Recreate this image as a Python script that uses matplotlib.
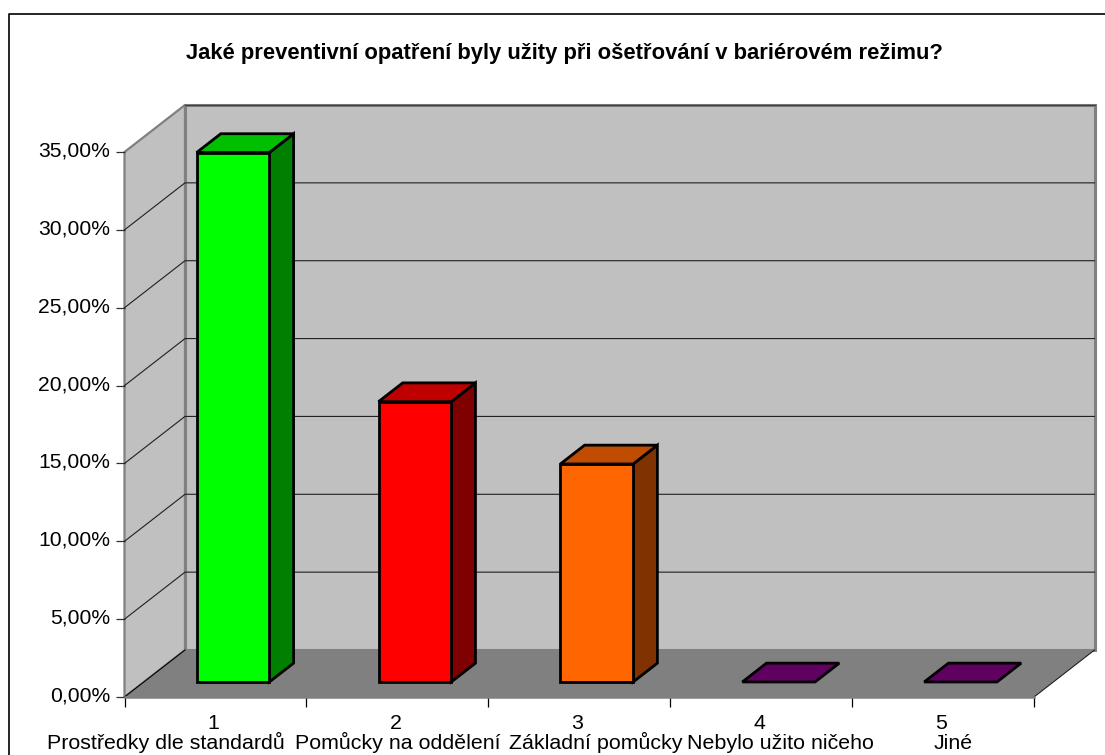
import matplotlib
matplotlib.use('Agg')
import matplotlib.pyplot as plt
from matplotlib.patches import Polygon
from matplotlib.transforms import ScaledTranslation

plt.rcParams['font.family'] = ['Liberation Sans', 'DejaVu Sans']

# data
cisla = ['1', '2', '3', '4', '5']
kategorie = ['Prostředky dle standardů', 'Pomůcky na oddělení', 'Základní pomůcky',
             'Nebylo užito ničeho', 'Jiné']
hodnoty = [34.0, 18.0, 14.0, 0.0, 0.0]
osa_y = [0, 5, 10, 15, 20, 25, 30, 35]
titulek = 'Jaké preventivní opatření byly užity při ošetřování v bariérovém režimu?'

# colours of each bar: front, top, side
barvy = [('#00FF00', '#00BF00', '#007F00'),
         ('#FF0000', '#BF0000', '#7F0000'),
         ('#FF6600', '#BF4C00', '#803300'),
         ('#660066', '#600060', '#330033'),
         ('#660066', '#600060', '#330033')]

W, H = 1105, 755
fig = plt.figure(figsize=(W / 100, H / 100), dpi=100)

# the axes is the front plane of the 3D box
L, R, T, B = 124.5, 1034.0, 152.0, 697.0
ax = fig.add_axes([L / W, 1 - B / H, (R - L) / W, (B - T) / H])
ax.set_xlim(0, 5)
ax.set_ylim(0, 35)
ax.patch.set_visible(False)
for s in ax.spines.values():
    s.set_visible(False)

# depth of the box in data units
DX = 60.5 / ((R - L) / 5)
DY = 47.0 / ((B - T) / 35)


def p(x, y, d=0.0):
    return (x + d * DX, y + d * DY)


def poly(body, fc, ec='none', lw=0.0, z=1):
    ax.add_patch(Polygon(body, closed=True, facecolor=fc, edgecolor=ec, linewidth=lw,
                         joinstyle='miter', clip_on=False, zorder=z))


# walls and floor
poly([p(0, 0), p(5, 0), p(5, 0, 1), p(0, 0, 1)], '#808080', z=1)
poly([p(0, 0), p(0, 35), p(0, 35, 1), p(0, 0, 1)], '#C0C0C0', ec='#808080', lw=1.6, z=1)
poly([p(0, 0, 1), p(0, 35, 1), p(5, 35, 1), p(5, 0, 1)], '#C0C0C0', ec='#808080', lw=2.2, z=1)
ax.plot([p(0, 35, 1)[0], p(5, 35, 1)[0]], [p(0, 35, 1)[1]] * 2, color='#404040', lw=0.9,
        clip_on=False, zorder=2)

# gridlines run along the side wall and then across the back wall
for v in osa_y[1:-1]:
    ax.plot([p(0, v)[0], p(0, v, 1)[0], p(5, v, 1)[0]],
            [p(0, v)[1], p(0, v, 1)[1], p(5, v, 1)[1]],
            color='#202020', lw=0.8, clip_on=False, zorder=2)

# floor edges
ax.plot([p(0, 0)[0], p(0, 0, 1)[0]], [p(0, 0)[1], p(0, 0, 1)[1]], color='black', lw=0.8,
        clip_on=False, zorder=2)
ax.plot([p(5, 0)[0], p(5, 0, 1)[0]], [p(5, 0)[1], p(5, 0, 1)[1]], color='#202020', lw=0.8,
        clip_on=False, zorder=2)
ax.plot([0, 5], [0, 0], color='#808080', lw=1.8, clip_on=False, zorder=2)

# bars
sirka = 0.4
d0, d1 = 0.32, 0.72
lw_bar = 2.0
for i, (h, c) in enumerate(zip(hodnoty, barvy)):
    x0 = i + 0.29
    x1 = x0 + sirka
    if h > 0:
        poly([p(x1, 0, d0), p(x1, h, d0), p(x1, h, d1), p(x1, 0, d1)], c[2], 'black', lw_bar, 3)
        poly([p(x0, 0, d0), p(x1, 0, d0), p(x1, h, d0), p(x0, h, d0)], c[0], 'black', lw_bar, 3)
    poly([p(x0, h, d0), p(x1, h, d0), p(x1, h, d1), p(x0, h, d1)], c[1], 'black', lw_bar, 3)

# ticks, the y labels sit 3 px above their tick
ax.set_yticks(osa_y)
ax.set_yticklabels([f'{v},00%' for v in osa_y], fontsize=15.2, color='black')
ax.tick_params(axis='y', length=6.5, width=0.9, color='#303030', pad=4)
nahoru = ScaledTranslation(0, 0.03, fig.dpi_scale_trans)
for t in ax.get_yticklabels():
    t.set_transform(t.get_transform() + nahoru)
ax.set_xticks(range(6))
ax.set_xticklabels([])
ax.tick_params(axis='x', length=7, width=0.9, color='black')

# category labels: number on top, name below it, each name placed on its own
posuny = [-0.265, 0.01, 0.10, 0.115, 0.065]
tr = ax.get_xaxis_transform()
for i, (c, k) in enumerate(zip(cisla, kategorie)):
    ax.text(i + 0.49, -32 / (B - T), c, transform=tr, fontsize=15.4, ha='center', va='baseline',
            clip_on=False)
    ax.text(i + 0.49 + posuny[i], -52 / (B - T), k, transform=tr, fontsize=15.4, ha='center',
            va='baseline', clip_on=False)

fig.text(564.5 / W, 1 - 53 / H, titulek, fontsize=15.8, fontweight='bold', ha='center', va='center')

# chart frame, open on the right and at the bottom
fig.add_artist(plt.Line2D([9.0 / W, 9.0 / W, 1], [0, 1 - 13.5 / H, 1 - 13.5 / H], color='black', lw=1.2))

fig.savefig('out.png', dpi=100)
